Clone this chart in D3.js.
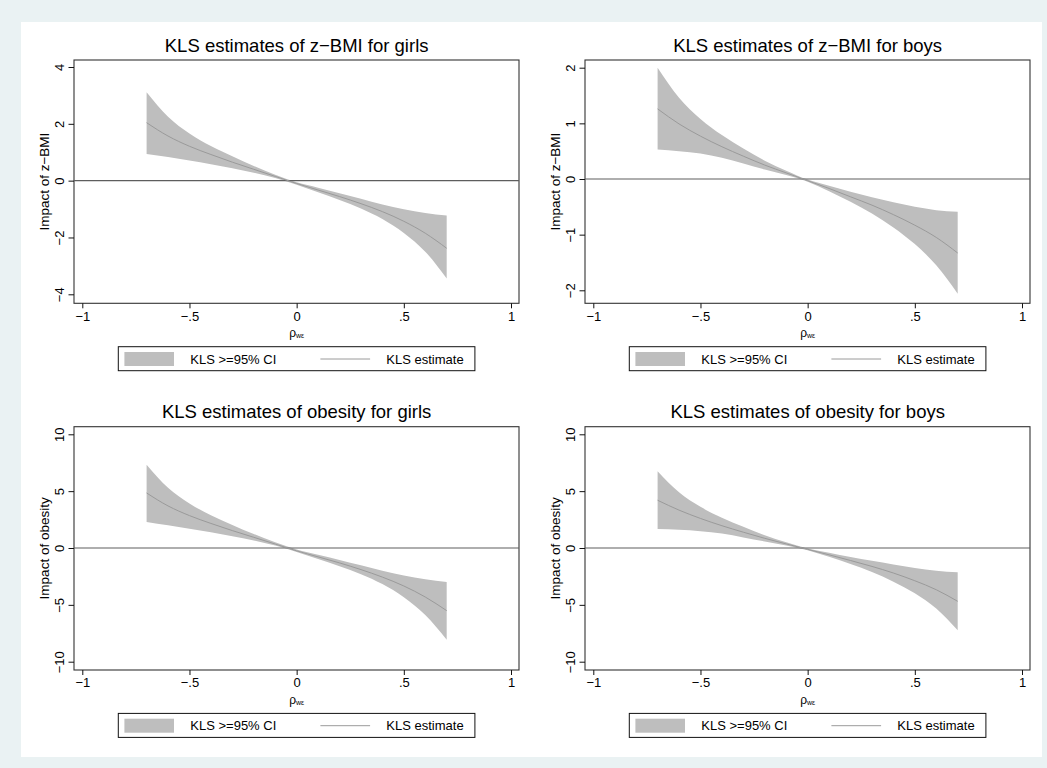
<!DOCTYPE html>
<html><head><meta charset="utf-8">
<script src="https://cdn.jsdelivr.net/npm/d3@7"></script>
<style>
body{margin:0;background:#eaf2f3}
svg{display:block;font-family:"Liberation Sans",Arial,Helvetica,sans-serif}
</style>
</head><body>
<svg id="chart" width="1047" height="768"></svg>
<script>
// ---------- data ----------
const rho = [-0.7,-0.6,-0.5,-0.4,-0.3,-0.2,-0.1,0,0.1,0.2,0.3,0.4,0.5,0.6,0.7];

const xTicks = [-1,-0.5,0,0.5,1];
const xTickLabels = ["\u22121","\u2212.5","0",".5","1"];

const titles = ["KLS estimates of z\u2212BMI for girls","KLS estimates of z\u2212BMI for boys",
                "KLS estimates of obesity for girls","KLS estimates of obesity for boys"];
const yTitles = ["Impact of z\u2212BMI","Impact of z\u2212BMI","Impact of obesity","Impact of obesity"];
const legendLabels = ["KLS >=95% CI","KLS estimate"];

const yTicksZGirls = [-4,-2,0,2,4];
const yTickLabelsZGirls = ["\u22124","\u22122","0","2","4"];
const yTicksZBoys = [-2,-1,0,1,2];
const yTickLabelsZBoys = ["\u22122","\u22121","0","1","2"];
const yTicksObesity = [-10,-5,0,5,10];
const yTickLabelsObesity = ["\u221210","\u22125","0","5","10"];

const zGirlsEst   = [2.04,1.57,1.21,0.92,0.65,0.40,0.15,-0.10,-0.33,-0.56,-0.81,-1.09,-1.43,-1.85,-2.38];
const zGirlsUpper = [3.11,2.25,1.66,1.22,0.86,0.52,0.21,-0.06,-0.25,-0.44,-0.64,-0.84,-1.01,-1.14,-1.23];
const zGirlsLower = [0.94,0.83,0.71,0.58,0.44,0.28,0.09,-0.14,-0.41,-0.68,-0.98,-1.35,-1.84,-2.50,-3.44];

const zBoysEst    = [1.26,0.99,0.77,0.58,0.41,0.25,0.11,-0.03,-0.17,-0.32,-0.47,-0.64,-0.83,-1.05,-1.33];
const zBoysUpper  = [2.00,1.46,1.08,0.79,0.55,0.33,0.15,-0.01,-0.12,-0.23,-0.33,-0.42,-0.50,-0.56,-0.59];
const zBoysLower  = [0.53,0.50,0.46,0.38,0.28,0.17,0.07,-0.05,-0.22,-0.41,-0.62,-0.87,-1.17,-1.55,-2.06];

const obGirlsEst   = [4.84,3.70,2.85,2.16,1.53,0.94,0.35,-0.25,-0.78,-1.31,-1.90,-2.56,-3.34,-4.31,-5.51];
const obGirlsUpper = [7.33,5.30,3.92,2.88,2.03,1.23,0.50,-0.14,-0.60,-1.05,-1.52,-2.00,-2.42,-2.75,-2.99];
const obGirlsLower = [2.29,2.00,1.70,1.38,1.04,0.66,0.21,-0.35,-0.97,-1.60,-2.30,-3.17,-4.33,-5.90,-8.06];

const obBoysEst    = [4.20,3.33,2.60,1.96,1.39,0.85,0.36,-0.12,-0.60,-1.10,-1.62,-2.20,-2.88,-3.67,-4.69];
const obBoysUpper  = [6.75,4.90,3.62,2.66,1.86,1.12,0.50,-0.04,-0.42,-0.79,-1.13,-1.45,-1.75,-1.99,-2.14];
const obBoysLower  = [1.67,1.60,1.48,1.27,0.93,0.57,0.22,-0.20,-0.78,-1.40,-2.11,-2.96,-3.99,-5.33,-7.24];

// ---------- panel table built from the arrays ----------
const panels = [
  {title:titles[0], yTitle:yTitles[0], est:zGirlsEst, up:zGirlsUpper, lo:zGirlsLower,
   ticks:yTicksZGirls, tickLabels:yTickLabelsZGirls, dom:[-4,4], rng:[294.3,67], col:0,row:0},
  {title:titles[1], yTitle:yTitles[1], est:zBoysEst, up:zBoysUpper, lo:zBoysLower,
   ticks:yTicksZBoys, tickLabels:yTickLabelsZBoys, dom:[-2,2], rng:[290.3,67.7], col:1,row:0},
  {title:titles[2], yTitle:yTitles[2], est:obGirlsEst, up:obGirlsUpper, lo:obGirlsLower,
   ticks:yTicksObesity, tickLabels:yTickLabelsObesity, dom:[-10,10], rng:[295,67.6], col:0,row:1},
  {title:titles[3], yTitle:yTitles[3], est:obBoysEst, up:obBoysUpper, lo:obBoysLower,
   ticks:yTicksObesity, tickLabels:yTickLabelsObesity, dom:[-10,10], rng:[295,67.6], col:1,row:1}
];

// ---------- layout ----------
const svg = d3.select("#chart");
svg.append("rect").attr("x",0).attr("y",0).attr("width",1047).attr("height",768).attr("fill","#eaf2f3");
svg.append("rect").attr("x",21).attr("y",22).attr("width",1021).attr("height",735).attr("fill","#ffffff");

const colDx = 511, rowDy = 366.7;
const frame = {x0:74, x1:519, y0:60, y1:303.3};
const bandColor = "#bebebe", lineColor = "#9a9a9a";

panels.forEach(p => {
  const g = svg.append("g").attr("transform",`translate(${p.col*colDx},${p.row*rowDy})`);
  const x = d3.scaleLinear().domain([-1,1]).range([82.3,511]);
  const y = d3.scaleLinear().domain(p.dom).range(p.rng);

  // plot region
  g.append("rect").attr("x",frame.x0).attr("y",frame.y0)
    .attr("width",frame.x1-frame.x0).attr("height",frame.y1-frame.y0)
    .attr("fill","#fff").attr("stroke","#333").attr("stroke-width",1.1);

  const rows = rho.map((r,i)=>({r, e:p.est[i], u:p.up[i], l:p.lo[i]}));

  // CI band
  g.append("path").datum(rows)
    .attr("d", d3.area().x(d=>x(d.r)).y0(d=>y(d.l)).y1(d=>y(d.u)).curve(d3.curveMonotoneX))
    .attr("fill",bandColor);
  // zero line
  g.append("line").attr("x1",frame.x0).attr("x2",frame.x1)
    .attr("y1",y(0)).attr("y2",y(0)).attr("stroke","#5e5e5e").attr("stroke-width",1.2);
  // estimate
  g.append("path").datum(rows)
    .attr("d", d3.line().x(d=>x(d.r)).y(d=>y(d.e)).curve(d3.curveMonotoneX))
    .attr("fill","none").attr("stroke",lineColor).attr("stroke-width",1);

  // x axis
  const xa = g.append("g").attr("transform",`translate(0,${frame.y1})`)
    .call(d3.axisBottom(x).tickValues(xTicks).tickFormat((d,i)=>xTickLabels[i]).tickSize(5).tickSizeOuter(0).tickPadding(3));
  xa.select(".domain").remove();
  xa.selectAll("line").attr("stroke","#111");
  xa.selectAll("text").attr("font-size",13).attr("fill","#000").attr("font-family",null);

  // y axis
  const ya = g.append("g").attr("transform",`translate(${frame.x0},0)`)
    .call(d3.axisLeft(y).tickValues(p.ticks).tickFormat((d,i)=>p.tickLabels[i]).tickSize(5.5).tickSizeOuter(0));
  ya.select(".domain").remove();
  ya.selectAll("line").attr("stroke","#111");
  ya.selectAll("text").attr("font-size",13).attr("fill","#000").attr("font-family",null)
    .attr("text-anchor","middle").attr("dy",0).attr("x",0)
    .attr("transform","translate(-10,0) rotate(-90)");

  // titles
  const cx = (x(-1)+x(1))/2;
  g.append("text").attr("x",cx).attr("y",51.5).attr("text-anchor","middle")
    .attr("font-size",18.5).attr("fill","#000").text(p.title);
  g.append("text").attr("transform",`translate(48.5,${(frame.y0+frame.y1)/2}) rotate(-90)`)
    .attr("text-anchor","middle").attr("font-size",13.5).attr("fill","#000").text(p.yTitle);
  const xl = g.append("text").attr("x",cx).attr("y",337).attr("text-anchor","middle")
    .attr("font-size",12).attr("fill","#000");
  xl.append("tspan").text("\u03c1");
  xl.append("tspan").attr("font-size",7).attr("dy",1).text("w\u03b5");

  // legend
  const lg = g.append("g");
  lg.append("rect").attr("x",118.3).attr("y",346.7).attr("width",356.6).attr("height",24)
    .attr("fill","#fff").attr("stroke","#111").attr("stroke-width",1);
  lg.append("rect").attr("x",124.4).attr("y",352).attr("width",49.6).attr("height",14).attr("fill",bandColor);
  lg.append("text").attr("x",190.3).attr("y",363.8).attr("font-size",13).attr("fill","#000").text(legendLabels[0]);
  lg.append("line").attr("x1",320.4).attr("x2",370.1).attr("y1",359).attr("y2",359)
    .attr("stroke",lineColor).attr("stroke-width",1);
  lg.append("text").attr("x",386.3).attr("y",363.8).attr("font-size",13).attr("fill","#000").text(legendLabels[1]);
});
</script>
</body></html>
